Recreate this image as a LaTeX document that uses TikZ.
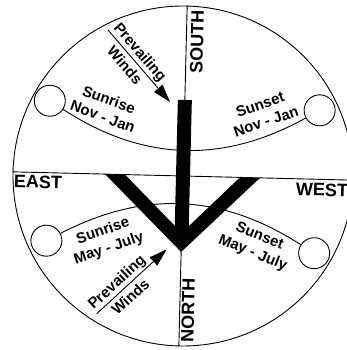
\documentclass[tikz,border=0pt]{standalone}
\usepackage{fontspec}
\setmainfont{Liberation Sans}
\usetikzlibrary{arrows.meta,calc}
\tikzset{
  dial/.style={circle,draw,line width=0.9pt,minimum size=340pt,inner sep=0pt},
  dialline/.style={line width=0.9pt},
  sunspot/.style={circle,draw,line width=0.9pt,minimum size=31pt,inner sep=0pt},
  sunlabel/.style={font=\fontsize{15}{18}\selectfont\bfseries,align=center,inner sep=0pt},
  windlabel/.style={font=\fontsize{15}{20.5}\selectfont\bfseries,align=center,inner sep=0pt},
  compasslabel/.style={font=\fontsize{18}{20}\selectfont\bfseries,inner sep=0pt},
  windarrow/.style={-{Triangle[length=18pt,width=11pt]},line width=0.9pt}
}
\begin{document}
\begin{tikzpicture}[x=1pt,y=1pt]
  \useasboundingbox (-183,-174) rectangle (164,176);
  \clip (-183,-174) rectangle (164,176);
  \begin{scope}[rotate=-1.4,transform shape]
  \node[dial] (dial) at (0,0) {};
  \draw[dialline] (dial.north) -- (dial.south);
  \draw[dialline] (dial.west) -- (dial.east);
  % sun positions and paths
  \node[sunspot] (risewinter) at (-135,72) {};
  \node[sunspot] (setwinter) at (135,69) {};
  \node[sunspot] (risesummer) at (-135,-68) {};
  \node[sunspot] (setsummer) at (133,-74) {};
  \draw[dialline] (risewinter) to[bend right=31] (setwinter);
  \draw[dialline] (risesummer) to[bend left=30] (setsummer);
  \node[sunlabel,rotate=-18.6] (risewinterlab) at (-78.7,66.1) {Sunrise\\Nov - Jan};
  \node[sunlabel,rotate=20.4] (setwinterlab) at (78.5,65) {Sunset\\Nov - Jan};
  \node[sunlabel,rotate=20.4] (risesummerlab) at (-75.4,-65.9) {Sunrise\\May - July};
  \node[sunlabel,rotate=-20.6] (setsummerlab) at (74.7,-67.2) {Sunset\\May - July};
  % pointer
  \fill (-7,76) -- (7,76) -- (7,-50) -- (57,0) -- (77,0) -- (0,-76)
    -- (-78,0) -- (-58,0) -- (-7,-50) -- cycle;
  % compass points
  \node[compasslabel,rotate=90] (south) at (10.7,134.3) {SOUTH};
  \node[compasslabel,rotate=90] (north) at (8.3,-134) {NORTH};
  \node[compasslabel] (east) at (-144.9,-9.5) {EAST};
  \node[compasslabel] (west) at (139.3,-10.6) {WEST};
  % prevailing winds
  \coordinate (windtail1) at (-78.6,144.2);
  \coordinate (windtip1) at (-14.8,73.7);
  \draw[windarrow] (windtail1) -- (windtip1);
  \node[windlabel,rotate=-47.9] (wind1) at ($(windtail1)!0.4!(windtip1)$) {Prevailing\\Winds};
  \coordinate (windtail2) at (-82.9,-139.8);
  \coordinate (windtip2) at (-14.5,-73.7);
  \draw[windarrow] (windtail2) -- (windtip2);
  \node[windlabel,rotate=44] (wind2) at ($(windtail2)!0.38!(windtip2)$) {Prevailing\\Winds};
  \end{scope}
\end{tikzpicture}
\end{document}
